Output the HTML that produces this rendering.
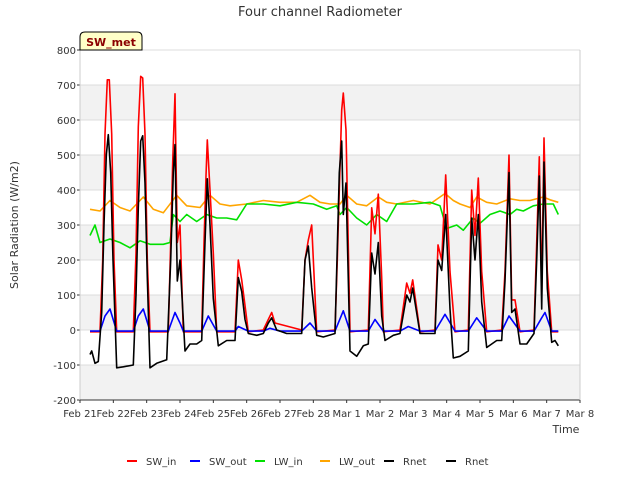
<!DOCTYPE html>
<html><head><meta charset="utf-8"><style>
body{margin:0;background:#fff;font-family:"Liberation Sans","DejaVu Sans",sans-serif}
svg text{font-family:"DejaVu Sans","Liberation Sans",sans-serif}
</style></head><body>
<svg id="c" width="640" height="480" xmlns="http://www.w3.org/2000/svg">
<rect x="0" y="0" width="640" height="480" fill="#fff"/>
<g id="bands"></g><g id="grid"></g><g id="axes"></g><g id="series"></g>
<text x="320" y="16" text-anchor="middle" font-size="13" fill="#333">Four channel Radiometer</text>
<text x="18" y="225" text-anchor="middle" font-size="11" fill="#333" transform="rotate(-90 18 225)">Solar Radiation (W/m2)</text>
<text x="566" y="433" text-anchor="middle" font-size="11" fill="#333">Time</text>
<g><path d="M80,50 L80,37 Q80,32 85,32 L137,32 Q142,32 142,37 L142,50 Z" fill="#ffffc8" stroke="#000" stroke-width="1"/><text x="111" y="46" text-anchor="middle" font-size="11" font-weight="bold" fill="#8b0000">SW_met</text></g>
<g id="legend"></g>
</svg>
<script>
const yTicks=[-200,-100,0,100,200,300,400,500,600,700,800];
const xTickLabels=["Feb 21","Feb 22","Feb 23","Feb 24","Feb 25","Feb 26","Feb 27","Feb 28","Mar 1","Mar 2","Mar 3","Mar 4","Mar 5","Mar 6","Mar 7","Mar 8"];
const swInT=[0.3,0.6,0.68,0.75,0.82,0.88,0.95,1.02,1.1,1.6,1.68,1.75,1.82,1.88,1.95,2.02,2.1,2.65,2.72,2.78,2.85,2.92,3.0,3.1,3.65,3.72,3.78,3.82,3.9,4.0,4.1,4.65,4.75,4.85,4.95,5.05,5.5,5.65,5.75,5.85,6.65,6.75,6.85,6.95,7.1,7.65,7.72,7.78,7.85,7.9,7.98,8.1,8.65,8.75,8.85,8.95,9.05,9.1,9.6,9.8,9.9,9.98,10.2,10.65,10.74,10.85,10.97,11.1,11.25,11.65,11.75,11.85,11.95,12.05,12.2,12.65,12.75,12.87,12.95,13.05,13.2,13.62,13.7,13.78,13.85,13.92,14.02,14.15,14.35];
const swInV=[-5,-5,200,560,715,715,560,200,-5,-5,220,580,725,720,560,200,-5,-5,250,480,675,250,300,-5,-5,250,440,543,400,220,-5,-5,200,143,70,-5,0,30,50,20,0,200,257,300,-5,0,200,400,629,677,571,-5,0,349,275,388,150,-5,0,134,105,143,-5,0,243,200,443,167,-5,0,400,270,434,167,-5,0,167,500,86,86,-5,0,250,495,100,549,167,-5,-5];
const swOutT=[0.3,0.6,0.75,0.9,1.1,1.6,1.75,1.9,2.1,2.65,2.85,3.0,3.1,3.65,3.85,4.1,4.65,4.75,5.05,5.5,5.7,6.0,6.65,6.9,7.1,7.65,7.9,8.1,8.65,8.85,9.1,9.6,9.85,10.2,10.65,10.95,11.25,11.65,11.9,12.2,12.65,12.87,13.2,13.62,13.85,13.95,14.15,14.35];
const swOutV=[-3,-3,40,60,-3,-3,40,60,-3,-3,50,20,-3,-3,40,-3,-3,10,-3,-3,5,-3,-3,20,-3,-3,55,-3,-3,30,-3,-3,10,-3,-3,45,-3,-3,35,-3,-3,40,-3,-3,35,50,-3,-3];
const lwInT=[0.3,0.45,0.6,0.9,1.2,1.5,1.8,2.1,2.5,2.7,2.8,3.0,3.2,3.5,3.8,4.1,4.4,4.7,5.0,5.5,6.0,6.5,7.0,7.4,7.7,7.8,8.0,8.3,8.6,8.9,9.2,9.5,10.0,10.5,10.8,11.0,11.3,11.5,11.8,12.0,12.3,12.6,12.9,13.1,13.3,13.6,13.9,14.2,14.35];
const lwInV=[270,300,250,260,250,235,255,245,245,250,330,310,330,310,330,320,320,315,360,360,355,365,360,345,355,330,350,320,300,330,310,360,360,365,355,290,300,285,320,305,330,340,330,345,340,355,360,360,330];
const lwOutT=[0.3,0.6,0.9,1.2,1.5,1.9,2.2,2.5,2.9,3.2,3.6,3.9,4.2,4.5,5.0,5.5,6.0,6.5,6.9,7.2,7.5,7.8,8.0,8.3,8.6,8.95,9.2,9.5,10.0,10.5,10.95,11.2,11.4,11.7,11.9,12.2,12.5,12.9,13.2,13.5,13.9,14.1,14.35];
const lwOutV=[345,340,370,350,340,380,345,335,385,355,350,385,360,355,360,370,365,365,385,365,360,360,385,360,355,380,365,360,370,360,390,370,360,350,380,365,360,375,370,370,380,372,365];
const rnetT=[0.3,0.35,0.45,0.55,0.65,0.72,0.79,0.85,0.92,0.99,1.1,1.3,1.6,1.68,1.75,1.82,1.88,1.95,2.02,2.1,2.3,2.6,2.72,2.8,2.85,2.92,3.0,3.15,3.3,3.5,3.65,3.75,3.82,3.9,4.0,4.15,4.4,4.65,4.75,4.85,4.95,5.05,5.3,5.5,5.65,5.75,5.9,6.2,6.65,6.75,6.85,6.95,7.1,7.3,7.65,7.78,7.85,7.9,7.98,8.1,8.3,8.5,8.65,8.75,8.85,8.95,9.05,9.15,9.4,9.6,9.8,9.9,9.98,10.2,10.5,10.65,10.74,10.85,10.97,11.1,11.2,11.4,11.65,11.75,11.85,11.95,12.05,12.2,12.5,12.65,12.75,12.87,12.95,13.05,13.2,13.4,13.62,13.7,13.78,13.85,13.92,14.02,14.15,14.25,14.35];
const rnetV=[-70,-60,-95,-90,50,300,500,558,450,200,-108,-105,-100,100,350,540,555,420,150,-108,-95,-85,200,450,530,140,200,-60,-40,-40,-30,250,432,300,90,-45,-30,-30,150,110,30,-10,-15,-10,20,35,0,-10,-10,200,240,120,-15,-20,-10,450,540,330,420,-60,-75,-45,-40,220,160,250,40,-30,-15,-10,100,80,120,-10,-10,-10,200,170,330,60,-80,-75,-60,320,200,330,80,-50,-30,-30,140,450,50,60,-40,-40,-10,200,440,60,480,120,-35,-30,-45];
const X0=80,X1=580,Y0=400,Y1=50;
const xs=d=>X0+d*(X1-X0)/15;
const ys=v=>Y0-(v+200)*(Y0-Y1)/1000;
const NS="http://www.w3.org/2000/svg";
function mk(tag,attrs,parent){const e=document.createElementNS(NS,tag);for(const k in attrs)e.setAttribute(k,attrs[k]);parent.appendChild(e);return e;}
const bands=document.getElementById('bands'),grid=document.getElementById('grid'),axes=document.getElementById('axes'),series=document.getElementById('series'),legend=document.getElementById('legend');
mk('rect',{x:X0,y:Y1,width:X1-X0,height:Y0-Y1,fill:'#fff'},bands);
for(let i=0;i<yTicks.length-1;i++){
  if(yTicks[i]%200===0){const r=mk('rect',{x:X0,y:ys(yTicks[i+1]),width:X1-X0,height:ys(yTicks[i])-ys(yTicks[i+1]),fill:'#f2f2f2'},bands);
  
  }
}
yTicks.forEach(v=>{
  mk('line',{x1:X0,x2:X1,y1:ys(v),y2:ys(v),stroke:'#dcdcdc','stroke-width':1},grid);
  const t=mk('text',{x:X0-4,y:ys(v)+4,'text-anchor':'end','font-size':10,fill:'#333'},axes);t.textContent=v;
  
  
  mk('line',{x1:X0-3,x2:X0,y1:ys(v),y2:ys(v),stroke:'#333'},axes);
});
xTickLabels.forEach((s,i)=>{
  const t=mk('text',{x:xs(i),y:Y0+17,'text-anchor':'middle','font-size':10,fill:'#333'},axes);t.textContent=s;
  
  
  mk('line',{x1:xs(i),x2:xs(i),y1:Y0,y2:Y0+3,stroke:'#333'},axes);
});
mk('line',{x1:X0,x2:X0,y1:Y1,y2:Y0,stroke:'#ccc'},axes);
mk('line',{x1:X0,x2:X1,y1:Y0,y2:Y0,stroke:'#333'},axes);
mk('line',{x1:X1,x2:X1,y1:Y1,y2:Y0,stroke:'#ccc'},axes);
function line(T,V,color,name){
  const d=T.map((t,i)=>(i?'L':'M')+xs(t).toFixed(1)+','+ys(V[i]).toFixed(1)).join(' ');
  const p=mk('path',{d:d,fill:'none',stroke:color,'stroke-width':1.6,'stroke-linejoin':'round'},series);
  
  
}
line(lwOutT,lwOutV,'#ffa500','lw-out-line');
line(lwInT,lwInV,'#00e000','lw-in-line');
line(swInT,swInV,'#ff0000','sw-in-line');
line(swOutT,swOutV,'#0000ff','sw-out-line');
line(rnetT,rnetV,'#000000','rnet-line');
const legNames=['SW_in','SW_out','LW_in','LW_out','Rnet','Rnet'];
const legColors=['#ff0000','#0000ff','#00e000','#ffa500','#000','#000'];
const legX=[127,190,255,320,384,446];
legNames.forEach((n,i)=>{
  const g=mk('g',{},legend);
  
  
  mk('line',{x1:legX[i],x2:legX[i]+10,y1:461,y2:461,stroke:legColors[i],'stroke-width':2},g);
  const t=mk('text',{x:legX[i]+19,y:465,'font-size':10,fill:'#333'},g);t.textContent=n;
});
</script>
</body></html>
